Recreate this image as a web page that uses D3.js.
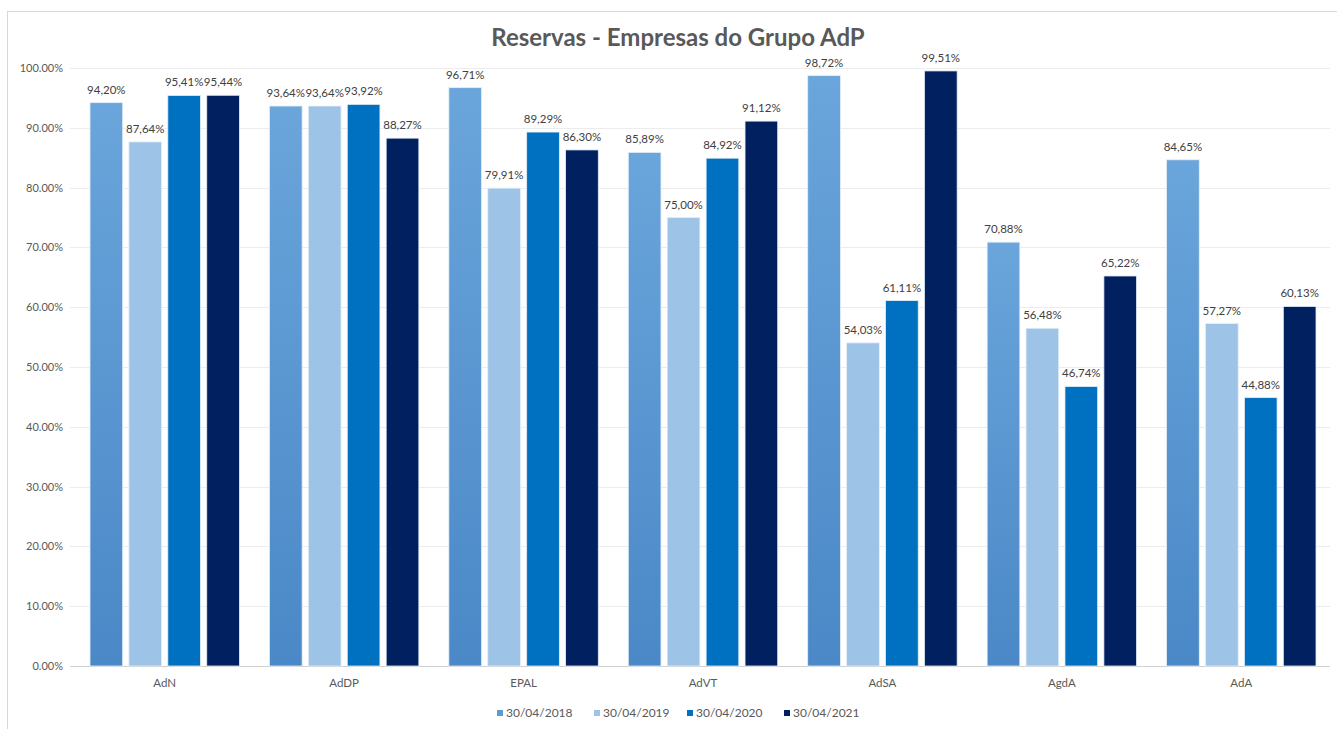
<!DOCTYPE html>
<html><head><meta charset="utf-8">
<script src="https://cdnjs.cloudflare.com/ajax/libs/d3/7.8.5/d3.min.js"></script>
<style>html,body{margin:0;padding:0;background:#fff;}svg{display:block;font-family:Lato,"DejaVu Sans",sans-serif;}</style>
</head><body><svg id="c" width="1337" height="729"></svg>
<script>
const categories = ["AdN","AdDP","EPAL","AdVT","AdSA","AgdA","AdA"];
const seriesNames = ["30/04/2018","30/04/2019","30/04/2020","30/04/2021"];
const s2018 = [94.20, 93.64, 96.71, 85.89, 98.72, 70.88, 84.65];
const s2019 = [87.64, 93.64, 79.91, 75.00, 54.03, 56.48, 57.27];
const s2020 = [95.41, 93.92, 89.29, 84.92, 61.11, 46.74, 44.88];
const s2021 = [95.44, 88.27, 86.30, 91.12, 99.51, 65.22, 60.13];
const yTicks = [0,10,20,30,40,50,60,70,80,90,100];
const colors = ["#5b9bd5","#9dc3e6","#0070c0","#002060"];
const series = [s2018, s2019, s2020, s2021];

const svg = d3.select("#c");
// chart border
svg.append("rect").attr("x",7.5).attr("y",11.5).attr("width",1340).attr("height",730)
  .attr("fill","#fff").attr("stroke","#d9d9d9");

const defs = svg.append("defs");
const g0 = defs.append("linearGradient").attr("id","grad0").attr("x1",0).attr("y1",0).attr("x2",0).attr("y2",1);
g0.append("stop").attr("offset","0%").attr("stop-color","#6aa5db");
g0.append("stop").attr("offset","100%").attr("stop-color","#4a88c7");

const pLeft = 75, pRight = 1331, pTop = 68, pBottom = 666;
const x0 = d3.scaleBand().domain(categories).range([pLeft,pRight]).paddingInner(0).paddingOuter(0);
const x1 = d3.scaleBand().domain(d3.range(4)).range([15, x0.bandwidth()-15]).paddingInner(0.16).paddingOuter(0);
const y = d3.scaleLinear().domain([0,100]).range([pBottom, pTop]);

// gridlines
svg.append("g").selectAll("line").data(yTicks).join("line")
  .attr("x1",70).attr("x2",1330)
  .attr("y1",d=>Math.round(y(d))+0.5).attr("y2",d=>Math.round(y(d))+0.5)
  .attr("stroke",d=>d===0?"#d0d0d0":"#ececec").attr("stroke-width",1);

// y tick labels
const fmtTick = d=> d.toFixed(2)+"%";
svg.append("g").selectAll("text").data(yTicks).join("text")
  .attr("x",63).attr("y",d=>y(d)+4).attr("text-anchor","end")
  .attr("font-size",11).attr("fill","#595959").text(fmtTick);

// bars
const fmtLab = v => v.toFixed(2).replace(".",",")+"%";
series.forEach((arr,si)=>{
  const g = svg.append("g");
  g.selectAll("rect").data(arr).join("rect")
    .attr("x",(d,i)=>x0(categories[i])+x1(si))
    .attr("y",d=>y(d))
    .attr("width",x1.bandwidth())
    .attr("height",d=>y(0)-y(d))
    .attr("fill", si===0 ? "url(#grad0)" : colors[si])
    .attr("stroke","#e4eef8").attr("stroke-width",0.8);
  g.selectAll("text").data(arr).join("text")
    .attr("x",(d,i)=>x0(categories[i])+x1(si)+x1.bandwidth()/2)
    .attr("y",d=>y(d)-9)
    .attr("text-anchor","middle").attr("font-size",11.5).attr("fill","#404040")
    .text(fmtLab);
});

// category labels
svg.append("g").selectAll("text").data(categories).join("text")
  .attr("x",d=>x0(d)+x0.bandwidth()/2).attr("y",687)
  .attr("text-anchor","middle").attr("font-size",11.5).attr("fill","#595959").text(d=>d);

// title
svg.append("text").attr("x",678).attr("y",46).attr("text-anchor","middle")
  .attr("font-size",24).attr("font-weight","bold").attr("fill","#595959")
  .text("Reservas - Empresas do Grupo AdP");

// legend
const legX = [497, 594, 687, 784];
const lg = svg.append("g");
seriesNames.forEach((n,i)=>{
  lg.append("rect").attr("x",legX[i]).attr("y",710).attr("width",6).attr("height",6).attr("fill",colors[i]);
  lg.append("text").attr("x",legX[i]+9).attr("y",717).attr("font-size",12).attr("fill","#595959").text(n);
});
</script></body></html>
